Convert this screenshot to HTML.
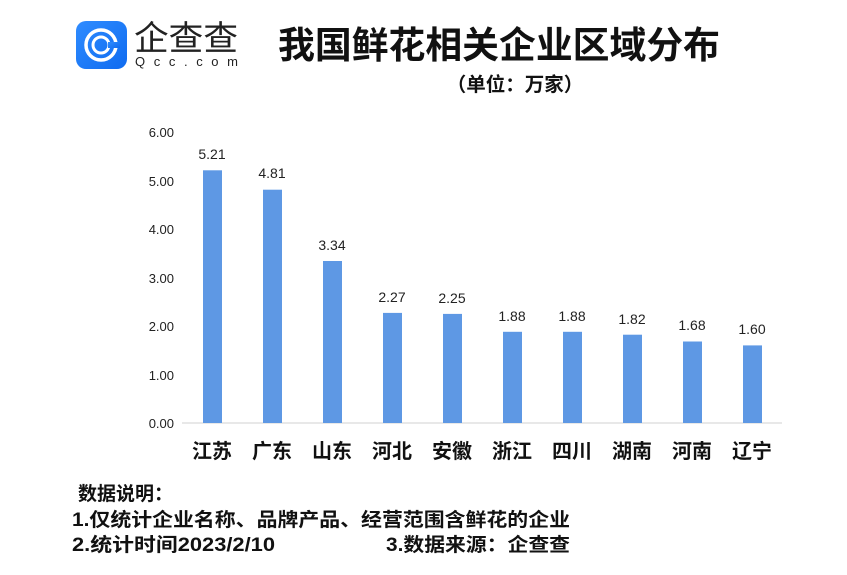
<!DOCTYPE html>
<html><head><meta charset="utf-8"><style>
body{margin:0;width:847px;height:570px;background:#fff;overflow:hidden;font-family:"Liberation Sans","Noto Sans CJK SC",sans-serif}
svg text{font-family:"Liberation Sans","Noto Sans CJK SC",sans-serif}
</style></head><body>
<svg width="847" height="570" xmlns="http://www.w3.org/2000/svg">
<defs><linearGradient id="g" x1="0" y1="0" x2="1" y2="1"><stop offset="0" stop-color="#2f8cff"/><stop offset="1" stop-color="#0f6bf0"/></linearGradient></defs>
<rect x="76" y="21" width="51" height="48" rx="10" fill="url(#g)"/>
<circle cx="101" cy="45" r="15" fill="none" stroke="#fff" stroke-width="3.5"/>
<circle cx="101" cy="45" r="8" fill="none" stroke="#fff" stroke-width="3"/>
<rect x="108" y="42" width="12" height="6" fill="url(#g)"/>
<text x="134" y="50" font-size="34" fill="#222" textLength="104" lengthAdjust="spacingAndGlyphs">企查查</text>
<text x="135" y="66" font-size="13" fill="#222" textLength="103" lengthAdjust="spacing">Qcc.com</text>
<text x="499" y="58" font-size="37" font-weight="bold" text-anchor="middle" fill="#111" textLength="442" lengthAdjust="spacingAndGlyphs">我国鲜花相关企业区域分布</text>
<text x="515" y="91" font-size="19.5" font-weight="bold" text-anchor="middle" fill="#111">（单位：万家）</text>
<g font-size="13" fill="#222" text-anchor="end">
<text x="174" y="428">0.00</text><text x="174" y="380">1.00</text><text x="174" y="331">2.00</text><text x="174" y="283">3.00</text><text x="174" y="234">4.00</text><text x="174" y="186">5.00</text><text x="174" y="137">6.00</text>
</g>
<line x1="182" y1="423" x2="782" y2="423" stroke="#d0d0d0" stroke-width="1"/>
<g fill="#5e98e4">
<rect x="203" y="170.3" width="19" height="252.7"/>
<rect x="263" y="189.7" width="19" height="233.3"/>
<rect x="323" y="261" width="19" height="162"/>
<rect x="383" y="312.9" width="19" height="110.1"/>
<rect x="443" y="313.9" width="19" height="109.1"/>
<rect x="503" y="331.8" width="19" height="91.2"/>
<rect x="563" y="331.8" width="19" height="91.2"/>
<rect x="623" y="334.7" width="19" height="88.3"/>
<rect x="683" y="341.5" width="19" height="81.5"/>
<rect x="743" y="345.4" width="19" height="77.6"/>
</g>
<g font-size="14" fill="#222" text-anchor="middle">
<text x="212" y="159">5.21</text><text x="272" y="178">4.81</text><text x="332" y="250">3.34</text><text x="392" y="302">2.27</text><text x="452" y="303">2.25</text><text x="512" y="321">1.88</text><text x="572" y="321">1.88</text><text x="632" y="324">1.82</text><text x="692" y="330">1.68</text><text x="752" y="334">1.60</text>
</g>
<g font-size="20" fill="#111" text-anchor="middle" font-weight="bold">
<text x="212" y="458">江苏</text><text x="272" y="458">广东</text><text x="332" y="458">山东</text><text x="392" y="458">河北</text><text x="452" y="458">安徽</text><text x="512" y="458">浙江</text><text x="572" y="458">四川</text><text x="632" y="458">湖南</text><text x="692" y="458">河南</text><text x="752" y="458">辽宁</text>
</g>
<g font-size="19" font-weight="bold" fill="#111">
<text x="78" y="500" textLength="95" lengthAdjust="spacingAndGlyphs">数据说明：</text>
<text x="72" y="526" textLength="498" lengthAdjust="spacingAndGlyphs">1.仅统计企业名称、品牌产品、经营范围含鲜花的企业</text>
<text x="72" y="551" textLength="203" lengthAdjust="spacingAndGlyphs">2.统计时间2023/2/10</text>
<text x="386" y="551" textLength="184" lengthAdjust="spacingAndGlyphs">3.数据来源：企查查</text>
</g>
</svg>
</body></html>
